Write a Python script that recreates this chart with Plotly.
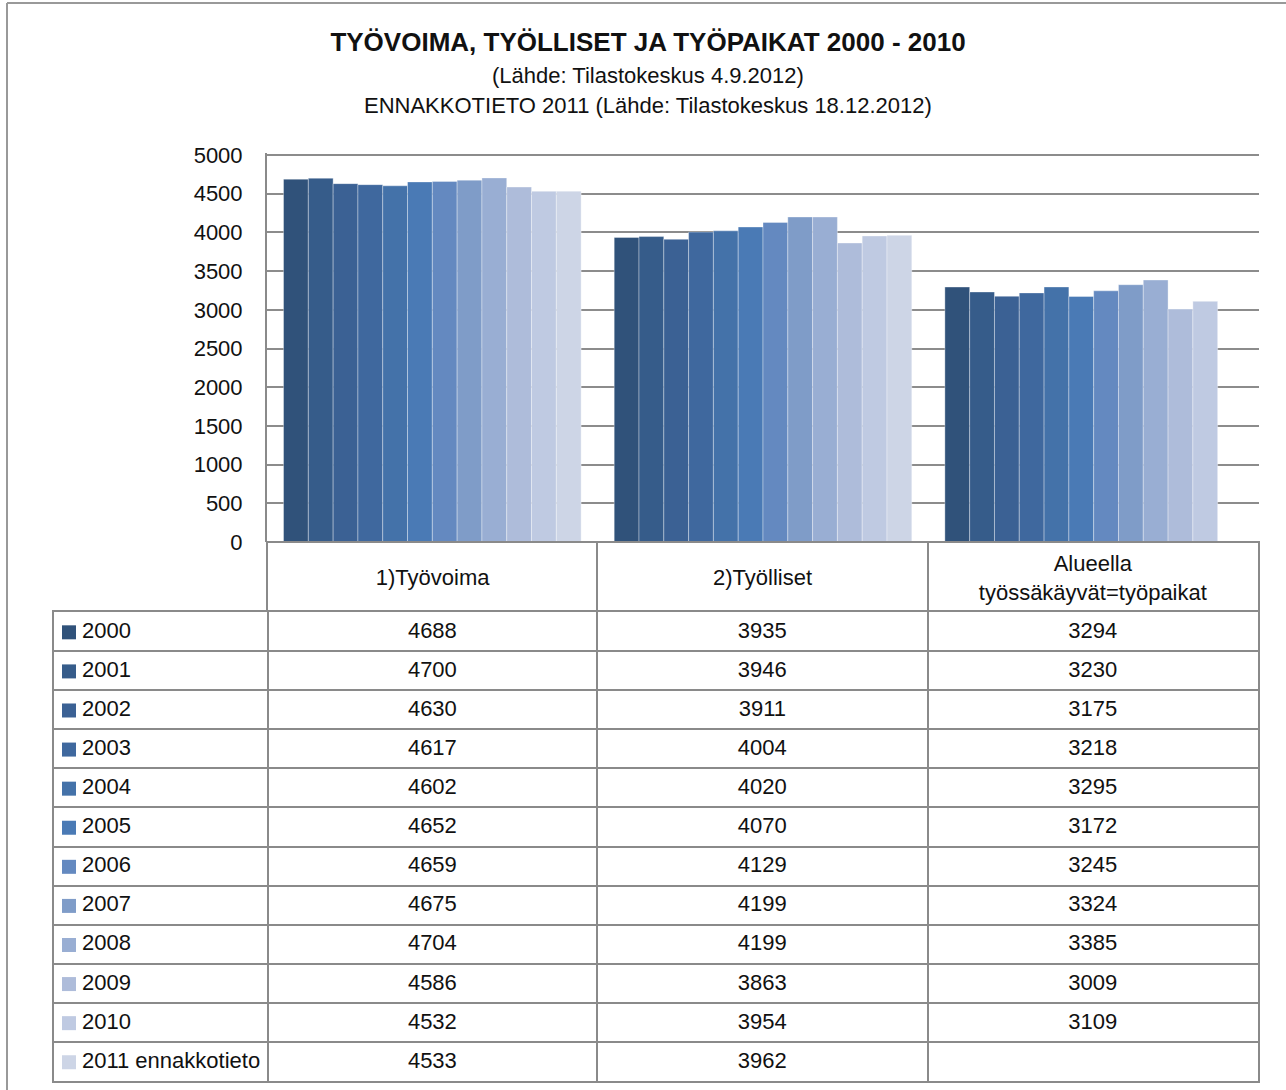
import plotly.graph_objects as go

W, H = 1286, 1090

categories = ["1)Työvoima", "2)Työlliset", "Alueella<br>työssäkäyvät=työpaikat"]
years = ["2000", "2001", "2002", "2003", "2004", "2005", "2006", "2007",
         "2008", "2009", "2010", "2011 ennakkotieto"]
tyovoima = [4688, 4700, 4630, 4617, 4602, 4652, 4659, 4675, 4704, 4586, 4532, 4533]
tyolliset = [3935, 3946, 3911, 4004, 4020, 4070, 4129, 4199, 4199, 3863, 3954, 3962]
tyopaikat = [3294, 3230, 3175, 3218, 3295, 3172, 3245, 3324, 3385, 3009, 3109, None]
colors = ["#30527A", "#365C8A", "#3B6194", "#3F689E", "#4472A9", "#4A7AB5",
          "#6489C0", "#7F9CC8", "#99AED3", "#AEBCDA", "#BFCAE2", "#CDD5E6"]
yticks = [0, 500, 1000, 1500, 2000, 2500, 3000, 3500, 4000, 4500, 5000]

FONT = "Liberation Sans Narrow, Arial Narrow, Liberation Sans, Arial, sans-serif"
GRID = "#8c8c8c"
BORDER = "#8a8a8a"
FS = 22
TXT = "#111111"

def px_x(p):
    return p / W

def px_y(p):
    return 1 - p / H

# geometry (pixels)
PLOT_L, PLOT_R, PLOT_T, PLOT_B = 267, 1259, 155, 542
T_LEFT, T_TOP, T_BOTTOM = 53, 611, 1082
Y_MAX = 5000
Y_PAD = 25  # small headroom so the top gridline is not clipped at the edge
col_widths = [214, 330, 331, 331]
edges = [0]
for w in col_widths:
    edges.append(edges[-1] + w)
centers = [(edges[i] + edges[i + 1]) / 2 for i in range(len(col_widths))]
n_rows = len(years)
T_RIGHT = T_LEFT + edges[-1]

fig = go.Figure()

# ---- bars ----
for i, yr in enumerate(years):
    fig.add_trace(go.Bar(
        x=categories,
        y=[tyovoima[i], tyolliset[i], tyopaikat[i]],
        name=yr,
        marker=dict(color=colors[i], line=dict(color="rgba(255,255,255,0.35)", width=1)),
        xaxis="x", yaxis="y",
        showlegend=False,
        hoverinfo="skip",
    ))

# ---- header row (category labels) ----
hdr_edges = [0, col_widths[1], col_widths[1] + col_widths[2], sum(col_widths[1:])]
hdr_centers = [(hdr_edges[i] + hdr_edges[i + 1]) / 2 for i in range(3)]
fig.add_trace(go.Scatter(
    x=hdr_centers, y=[0.45] * 3, text=categories, mode="text",
    textposition="middle center",
    textfont=dict(family=FONT, size=FS, color=TXT),
    xaxis="x3", yaxis="y3", showlegend=False, hoverinfo="skip",
))

# ---- data table ----
def fmt(v):
    return "" if v is None else str(v)

row_y = [i + 0.52 for i in range(n_rows)]

# legend keys
fig.add_trace(go.Scatter(
    x=[15] * n_rows, y=row_y, mode="markers",
    marker=dict(symbol="square", size=14, color=colors, line=dict(width=0)),
    xaxis="x2", yaxis="y2", showlegend=False, hoverinfo="skip",
))
# row labels
fig.add_trace(go.Scatter(
    x=[28] * n_rows, y=row_y, text=years, mode="text",
    textposition="middle right",
    textfont=dict(family=FONT, size=FS, color=TXT),
    xaxis="x2", yaxis="y2", showlegend=False, hoverinfo="skip",
))
# values
for ci, series in enumerate([tyovoima, tyolliset, tyopaikat]):
    fig.add_trace(go.Scatter(
        x=[centers[ci + 1]] * n_rows, y=row_y, text=[fmt(v) for v in series],
        mode="text", textposition="middle center",
        textfont=dict(family=FONT, size=FS, color=TXT),
        xaxis="x2", yaxis="y2", showlegend=False, hoverinfo="skip",
    ))

top_px = PLOT_T - (PLOT_B - PLOT_T) * Y_PAD / Y_MAX

fig.update_layout(
    width=W, height=H,
    margin=dict(l=0, r=0, t=0, b=0, pad=0, autoexpand=False),
    paper_bgcolor="white", plot_bgcolor="rgba(0,0,0,0)",
    title=dict(text="<b>TYÖVOIMA, TYÖLLISET JA TYÖPAIKAT 2000 - 2010</b>",
               x=px_x(648), xanchor="center", y=px_y(42), yanchor="middle",
               xref="paper", yref="paper",
               font=dict(family=FONT, size=26, color=TXT)),
    barmode="group", bargap=0.1, bargroupgap=0,
    xaxis=dict(domain=[px_x(PLOT_L), px_x(PLOT_R)], showticklabels=False,
               showgrid=False, zeroline=False, showline=False, fixedrange=True),
    yaxis=dict(domain=[px_y(PLOT_B), px_y(top_px)], range=[0, Y_MAX + Y_PAD],
               tickvals=yticks, ticktext=[str(v) for v in yticks],
               showgrid=True, gridcolor=GRID, gridwidth=2,
               zeroline=False, showline=True, linecolor=BORDER, linewidth=2,
               ticks="", ticklabelstandoff=18, fixedrange=True,
               tickfont=dict(family=FONT, size=FS, color=TXT)),
    # table body (domain inset by 1px so the 2px border lines are centred on the cell edges)
    xaxis2=dict(domain=[px_x(T_LEFT + 1), px_x(T_RIGHT - 1)], range=[0, edges[-1]],
                tickvals=edges[1:-1], showticklabels=False, ticks="",
                showgrid=True, gridcolor=BORDER, gridwidth=2, zeroline=False,
                showline=True, mirror=True, linecolor=BORDER, linewidth=2,
                anchor="y2", fixedrange=True),
    yaxis2=dict(domain=[px_y(T_BOTTOM - 1), px_y(T_TOP + 1)], range=[n_rows, 0],
                tickvals=list(range(1, n_rows)), showticklabels=False, ticks="",
                showgrid=True, gridcolor=BORDER, gridwidth=2, zeroline=False,
                showline=True, mirror=True, linecolor=BORDER, linewidth=2,
                anchor="x2", fixedrange=True),
    # header row
    xaxis3=dict(domain=[px_x(PLOT_L + 1), px_x(PLOT_R - 1)], range=[0, hdr_edges[-1]],
                tickvals=hdr_edges[1:-1], showticklabels=False, ticks="",
                showgrid=True, gridcolor=BORDER, gridwidth=2, zeroline=False,
                showline=True, mirror=True, linecolor=BORDER, linewidth=2,
                anchor="y3", fixedrange=True),
    yaxis3=dict(domain=[px_y(T_TOP - 1), px_y(PLOT_B + 1)], range=[0, 1],
                showticklabels=False, ticks="", showgrid=False, zeroline=False,
                showline=True, mirror=True, linecolor=BORDER, linewidth=2,
                anchor="x3", fixedrange=True),
    annotations=[
        dict(x=px_x(648), y=px_y(75), xref="paper", yref="paper",
             text="(Lähde: Tilastokeskus 4.9.2012)", showarrow=False,
             font=dict(family=FONT, size=22, color=TXT), xanchor="center", yanchor="middle"),
        dict(x=px_x(648), y=px_y(106), xref="paper", yref="paper",
             text="ENNAKKOTIETO 2011 (Lähde: Tilastokeskus 18.12.2012)", showarrow=False,
             font=dict(family=FONT, size=22, color=TXT), xanchor="center", yanchor="middle"),
    ],
    shapes=[
        dict(type="line", xref="paper", yref="paper",
             x0=px_x(7), x1=1.01, y0=px_y(3), y1=px_y(3),
             line=dict(color="#999", width=2)),
        dict(type="line", xref="paper", yref="paper",
             x0=px_x(7), x1=px_x(7), y0=px_y(3), y1=-0.01,
             line=dict(color="#999", width=2)),
    ],
)

fig.write_html("out.html", config={"displayModeBar": False},
               post_script="document.body.style.margin='0px';")
